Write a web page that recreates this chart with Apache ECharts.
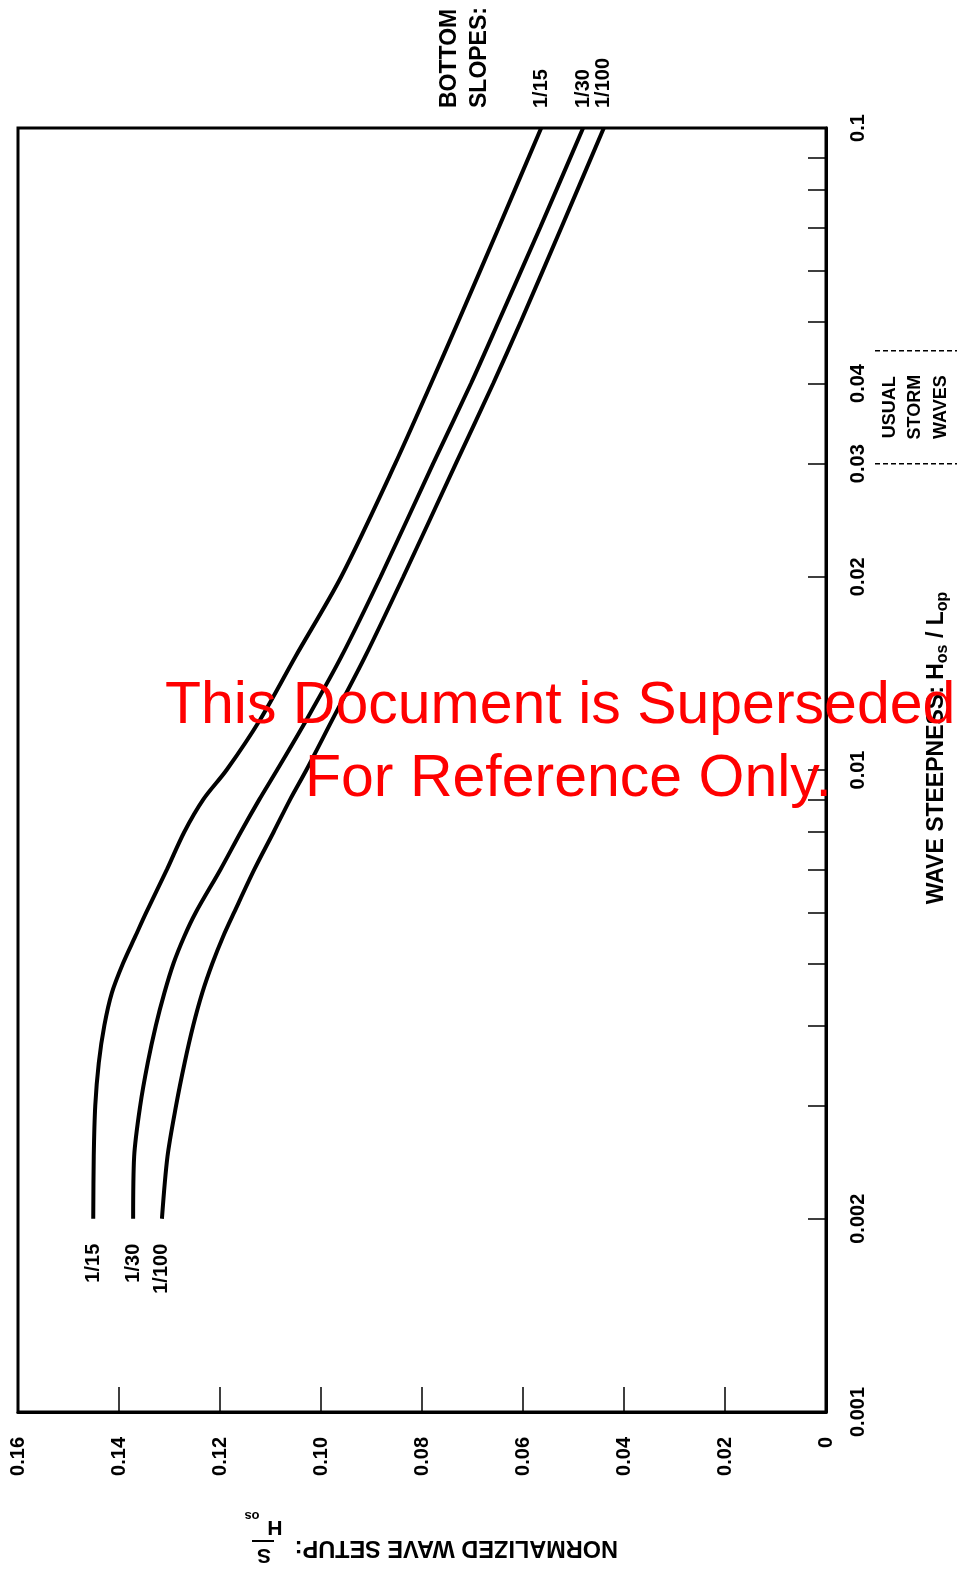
<!DOCTYPE html>
<html><head><meta charset="utf-8">
<script src="https://cdn.jsdelivr.net/npm/echarts@6/dist/echarts.min.js"></script>
<style>html,body{margin:0;padding:0;background:#fff}#c{width:963px;height:1572px}</style>
</head><body><div id="c"></div>
<script>
// Wave steepness Hos/Lop (log axis)
const steepness = [0.002,0.0025,0.003,0.0035,0.004,0.0045,0.005,0.0055,0.006,0.007,0.008,0.009,0.01,0.012,0.015,0.02,0.03,0.04,0.05,0.07,0.1];
// Normalized wave setup S/Hos for each bottom slope
const slope15  = [0.1451,0.1450,0.1447,0.1440,0.1429,0.1414,0.1392,0.1368,0.1346,0.1305,0.1271,0.1233,0.1187,0.1120,0.1051,0.0960,0.0853,0.0782,0.0728,0.0648,0.0564];
const slope30  = [0.1372,0.1370,0.1358,0.1343,0.1327,0.1310,0.1292,0.1271,0.1248,0.1199,0.1159,0.1122,0.1087,0.1028,0.0960,0.0882,0.0778,0.0703,0.0648,0.0566,0.0481];
const slope100 = [0.1315,0.1304,0.1287,0.1270,0.1253,0.1235,0.1215,0.1194,0.1172,0.1132,0.1094,0.1061,0.1029,0.0977,0.0913,0.0837,0.0733,0.0659,0.0604,0.0524,0.0440];
const seriesNames = ['1/15','1/30','1/100'];
const seriesValues = [slope15, slope30, slope100];

const setupMin = 0, setupMax = 0.16, setupStep = 0.02;
const steepTickValues = [0.002,0.003,0.004,0.005,0.006,0.007,0.008,0.009,0.01,0.02,0.03,0.04,0.05,0.06,0.07,0.08,0.09];
const steepLabelValues = [0.001,0.002,0.01,0.02,0.03,0.04,0.1];
const steepLabelText = ['0.001','0.002','0.01','0.02','0.03','0.04','0.1'];
const usualStormRange = [0.03, 0.045];
const usualStormText = ['USUAL','STORM','WAVES'];
const slopesHeader = ['BOTTOM','SLOPES:'];
const xTitle = 'NORMALIZED WAVE SETUP:';
const watermark = ['This Document is Superseded','For Reference Only.'];

const FF = "'Liberation Sans', Arial, Helvetica, sans-serif";
const chart = echarts.init(document.getElementById('c'), null, {renderer:'canvas'});

function steepLabel(v){
  let best = 0, bd = Infinity;
  steepLabelValues.forEach((t,i)=>{ const d = Math.abs(Math.log10(v) - Math.log10(t)); if (d < bd){bd=d;best=i;} });
  return bd < 0.01 ? steepLabelText[best] : '';
}

const option = {
  animation: false,
  backgroundColor: '#fff',
  grid: { left: 18, right: 137, top: 128, bottom: 160, show: true, borderColor: '#000', borderWidth: 3, containLabel: false },
  xAxis: {
    type: 'value', min: setupMin, max: setupMax, interval: setupStep, inverse: true, position: 'bottom',
    axisLine: { show: true, lineStyle: { color: '#000', width: 3 } },
    axisTick: { show: true, inside: true, length: 25, lineStyle: { color: '#000', width: 1.5 } },
    splitLine: { show: false },
    axisLabel: { rotate: 90, margin: 25, color: '#000', fontFamily: FF, fontWeight: 'bold', fontSize: 20,
      formatter: v => v === 0 ? '0' : v.toFixed(2) }
  },
  yAxis: {
    type: 'log', logBase: 10, min: 0.001, max: 0.1, position: 'right',
    axisLine: { show: true, lineStyle: { color: '#000', width: 3 } },
    axisTick: { show: true, inside: true, length: 18, customValues: steepTickValues, lineStyle: { color: '#000', width: 1.5 } },
    minorTick: { show: false },
    splitLine: { show: false },
    axisLabel: { rotate: 90, margin: 22, color: '#000', fontFamily: FF, fontWeight: 'bold', fontSize: 20,
      customValues: steepLabelValues, formatter: v => steepLabel(v), showMinLabel: true, showMaxLabel: true, hideOverlap: false }
  },
  series: seriesValues.map((vals, k) => ({
    name: seriesNames[k], type: 'line', smooth: 0.3, showSymbol: false, symbol: 'none',
    lineStyle: { color: '#000', width: 4 },
    data: steepness.map((s, i) => [vals[i], s])
  }))
};
chart.setOption(option);

const toPx = v => chart.convertToPixel({xAxisIndex: 0, yAxisIndex: 0}, v);
const g = [];
const boldText = (text, x, y, size, align, extra) => Object.assign({
  type: 'text', x, y, rotation: Math.PI / 2, z: 50,
  style: { text, fill: '#000', fontFamily: FF, fontWeight: 'bold', fontSize: size, align, verticalAlign: 'middle' }
}, extra || {});

// series labels at both ends
let topY = 0;
seriesValues.forEach((vals, k) => {
  const last = toPx([vals[vals.length-1], steepness[steepness.length-1]]);
  const first = toPx([vals[0], steepness[0]]);
  topY = last[1] - 20;
  g.push(boldText(seriesNames[k], last[0], last[1] - 20, 20, 'left'));
  g.push(boldText(seriesNames[k], first[0], first[1] + 25, 20, 'right'));
});
g.push(boldText(slopesHeader[0], 450, topY, 23, 'left'));
g.push(boldText(slopesHeader[1], 480, topY, 23, 'left'));

// usual storm waves bracket
const yA = toPx([0, usualStormRange[0]])[1];
const yB = toPx([0, usualStormRange[1]])[1];
[yA, yB].forEach(y => g.push({ type: 'line', z: 50, shape: { x1: 875, y1: y, x2: 957, y2: y },
  style: { stroke: '#000', lineWidth: 1.5, lineDash: [5, 3] } }));
usualStormText.forEach((t, i) => g.push(boldText(t, 890 + i * 25.5, (yA + yB) / 2, 18, 'center')));

// right axis title
g.push({ type: 'text', x: 937, y: 748, rotation: Math.PI / 2, z: 50,
  style: { text: '{m|WAVE STEEPNESS: H}{s|os}{m| / L}{s|op}', align: 'center', verticalAlign: 'middle',
    rich: { m: { fontFamily: FF, fontWeight: 'bold', fontSize: 23, lineHeight: 28, fill: '#000', verticalAlign: 'middle' },
            s: { fontFamily: FF, fontWeight: 'bold', fontSize: 16, lineHeight: 16, fill: '#000', verticalAlign: 'bottom' } } } });

// bottom axis title (printed upside down in the source)
g.push({ type: 'group', x: 440, y: 1547, rotation: Math.PI, z: 50, children: [
  { type: 'text', x: -178, y: 0, style: { text: xTitle, fill: '#000', fontFamily: FF, fontWeight: 'bold', fontSize: 23.5, align: 'left', verticalAlign: 'middle' } },
  { type: 'text', x: 176, y: -8, style: { text: 'S', fill: '#000', fontFamily: FF, fontWeight: 'bold', fontSize: 21, align: 'center', verticalAlign: 'middle' } },
  { type: 'line', shape: { x1: 166, y1: 6, x2: 188, y2: 6 }, style: { stroke: '#000', lineWidth: 2 } },
  { type: 'text', x: 165, y: 20, style: { text: 'H', fill: '#000', fontFamily: FF, fontWeight: 'bold', fontSize: 21, align: 'center', verticalAlign: 'middle' } },
  { type: 'text', x: 188, y: 31, style: { text: 'os', fill: '#000', fontFamily: FF, fontWeight: 'bold', fontSize: 13, align: 'center', verticalAlign: 'middle' } }
]});

// watermark
g.push({ type: 'text', x: 165, y: 707, z: 100, style: { text: watermark[0], fill: '#ff0000', fontFamily: FF, fontSize: 59, align: 'left', verticalAlign: 'middle' } });
g.push({ type: 'text', x: 305, y: 780, z: 100, style: { text: watermark[1], fill: '#ff0000', fontFamily: FF, fontSize: 59, align: 'left', verticalAlign: 'middle' } });

chart.setOption({ graphic: g });
</script></body></html>
